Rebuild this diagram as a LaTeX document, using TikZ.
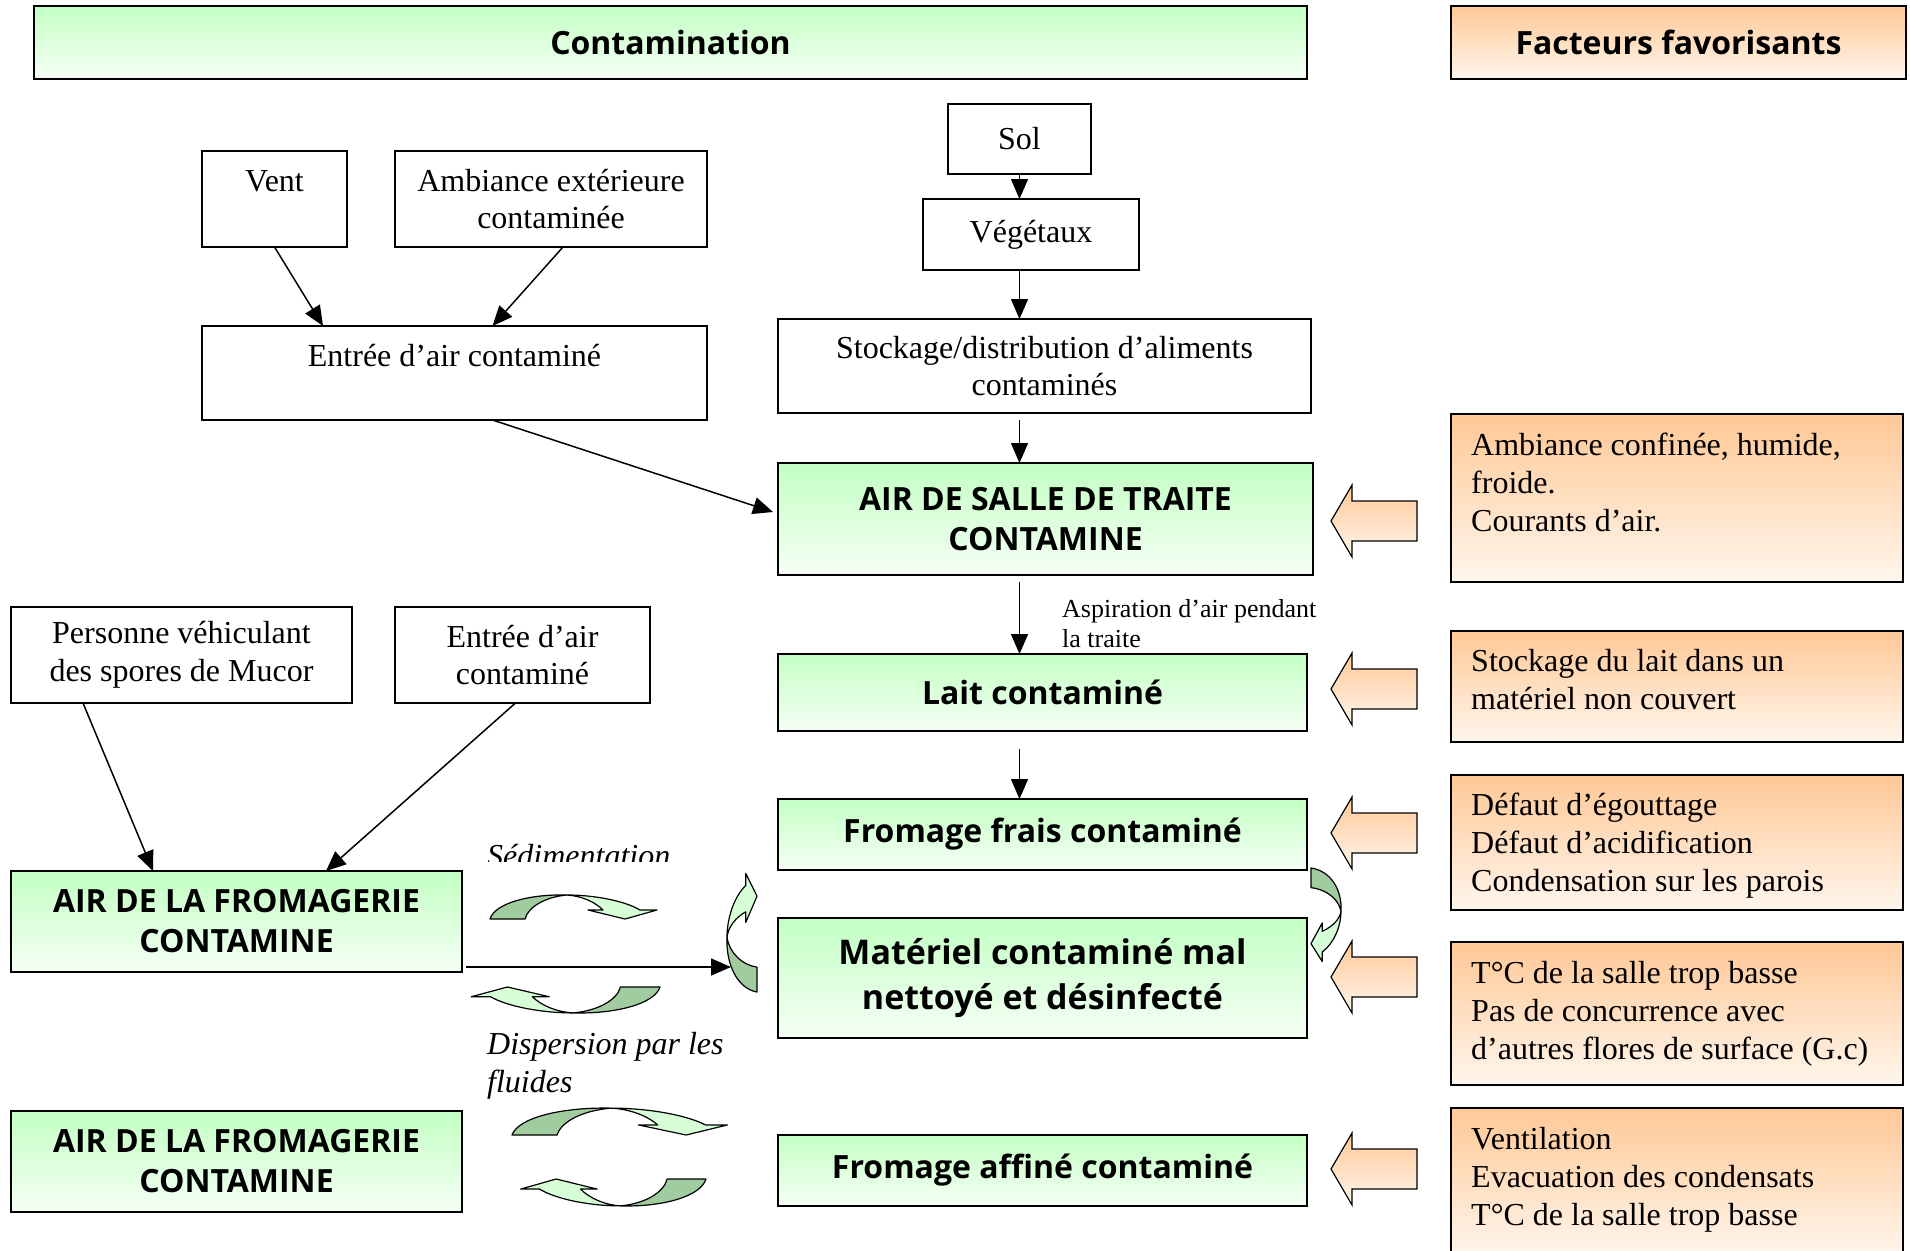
\documentclass[tikz,border=0pt]{standalone}
\usepackage{fontspec}
\setmainfont{Liberation Serif}
\newfontfamily\comicfont{Open Sans}
\usetikzlibrary{arrows.meta,calc}
\definecolor{vertclair}{RGB}{195,255,195}
\definecolor{vertpale}{RGB}{246,255,246}
\definecolor{orangeclair}{RGB}{255,200,150}
\definecolor{orangepale}{RGB}{255,246,237}
\definecolor{vertfonce}{RGB}{160,204,160}
\definecolor{vertfleche}{RGB}{215,255,215}

\newcommand{\courbe}{%
  \filldraw[fill=vertfonce,line width=1.2pt,line join=round] (0,0) .. controls (5,16) and (40,25) .. (77,24) .. controls (55,22) and (38,12) .. (35,0) -- cycle;
  \filldraw[fill=vertfleche,line width=1.2pt,line join=round] (77,24) .. controls (105,24) and (135,18) .. (150,9) -- (167,9) -- (135,0) -- (98,9) -- (113,9) .. controls (105,17) and (92,23) .. (77,24) -- cycle;}

\begin{document}
\begin{tikzpicture}[x=1pt,y=-1pt,
  boite/.style={draw,line width=1.4pt,inner sep=0pt,outer sep=0pt,align=center,font=\fontsize{32}{37.8}\selectfont},
  verte/.style={boite,top color=vertclair,bottom color=vertpale,font=\comicfont\bfseries\fontsize{32}{40}\selectfont},
  facteur/.style={draw,line width=1.4pt,top color=orangeclair,bottom color=orangepale,minimum width=452pt,inner sep=0pt,outer sep=0pt},
  factxt/.style={anchor=north west,inner sep=0pt,align=left,font=\fontsize{32}{37.8}\selectfont},
  fl/.style={-{Triangle[length=20pt,width=17pt]},line width=1.5pt}]
  \useasboundingbox (0,0) rectangle (1910,1250);

  \node[verte,line width=2.2pt,minimum width=1273pt,minimum height=73pt] (contam) at (670.5,42.5) {Contamination};
  \node[verte,line width=2.2pt,top color=orangeclair,bottom color=orangepale,minimum width=455pt,minimum height=73pt] (factfav) at (1678.5,42.5) {Facteurs favorisants};

  \node[boite,minimum width=143pt,minimum height=70pt] (sol) at (1019.5,139) {Sol};
  \node[boite,minimum width=216pt,minimum height=71pt] (veg) at (1031,234.5) {Végétaux};
  \node[boite,minimum width=145pt,minimum height=96pt] (vent) at (274.5,199) {Vent\\[-14pt]\strut};
  \node[boite,minimum width=312pt,minimum height=96pt] (ambiance) at (551,199) {Ambiance extérieure\\contaminée};
  \node[boite,minimum width=505pt,minimum height=94pt] (entree) at (454.5,373) {Entrée d’air contaminé\\[-14pt]\strut};
  \node[boite,minimum width=533pt,minimum height=94pt] (stock) at (1044.5,366) {Stockage/distribution d’aliments\\contaminés};
  \node[boite,minimum width=341pt,minimum height=96pt] (personne) at (181.5,655) {Personne véhiculant\\des spores de Mucor};
  \node[boite,minimum width=255pt,minimum height=96pt] (entree2) at (522.5,655) {Entrée d’air\\contaminé};

  \node[verte,minimum width=535pt,minimum height=112pt] (airsalle) at (1045.5,519) {AIR DE SALLE DE TRAITE\\CONTAMINE};
  \node[verte,minimum width=529pt,minimum height=77pt] (lait) at (1042.5,692.5) {Lait contaminé};
  \node[verte,minimum width=529pt,minimum height=71pt] (frais) at (1042.5,834.5) {Fromage frais contaminé};
  \node[verte,minimum width=529pt,minimum height=120pt,font=\comicfont\bfseries\fontsize{34}{45}\selectfont] (materiel) at (1042.5,978) {Matériel contaminé mal\\nettoyé et désinfecté};
  \node[verte,minimum width=529pt,minimum height=71pt] (affine) at (1042.5,1170.5) {Fromage affiné contaminé};
  \node[verte,minimum width=451pt,minimum height=101pt] (airfrom) at (236.5,921.5) {AIR DE LA FROMAGERIE\\CONTAMINE};
  \node[verte,minimum width=451pt,minimum height=101pt] (airfrom2) at (236.5,1161.5) {AIR DE LA FROMAGERIE\\CONTAMINE};

  \node[facteur,minimum height=168pt] (f1) at (1677,498) {};
  \node[facteur,minimum height=111pt] (f2) at (1677,686.5) {};
  \node[facteur,minimum height=135pt] (f3) at (1677,842.5) {};
  \node[facteur,minimum height=143pt] (f4) at (1677,1013.5) {};
  \node[facteur,minimum height=148pt] (f5) at (1677,1182) {};
  \node[factxt] (f1t) at ($(f1.north west)+(20,19)$) {Ambiance confinée, humide,\\froide.\\Courants d’air.};
  \node[factxt] (f2t) at ($(f2.north west)+(20,18)$) {Stockage du lait dans un\\matériel non couvert};
  \node[factxt] (f3t) at ($(f3.north west)+(20,18)$) {Défaut d’égouttage\\Défaut d’acidification\\Condensation sur les parois};
  \node[factxt] (f4t) at ($(f4.north west)+(20,19)$) {T°C de la salle trop basse\\Pas de concurrence avec\\d’autres flores de surface (G.c)};
  \node[factxt] (f5t) at ($(f5.north west)+(20,19)$) {Ventilation\\Evacuation des condensats\\T°C de la salle trop basse};

  \foreach \c in {521,689,833,977,1169}
    \draw[line width=1.2pt,top color=orangeclair,bottom color=orangepale] (1331,\c) -- (1352,\c-36) -- (1352,\c-20) -- (1417,\c-20) -- (1417,\c+20) -- (1352,\c+20) -- (1352,\c+36) -- cycle;

  \draw[fl] (vent.south) -- ($(entree.north west)+(121,0)$);
  \draw[fl] ($(ambiance.south)+(12,0)$) -- ($(entree.north)+(38,0)$);
  \draw[fl] (sol.south) -- (sol.south |- veg.north);
  \draw[fl] (sol.south |- veg.south) -- (sol.south |- stock.north);
  \draw[fl,shorten <=7pt] (sol.south |- stock.south) -- (sol.south |- airsalle.north);
  \draw[fl] ($(entree.south)+(38,0)$) -- ($(airsalle.west)+(-5,-7)$);
  \draw[fl,shorten <=7pt] (sol.south |- airsalle.south) -- (sol.south |- lait.north);
  \node[anchor=west,inner sep=0pt,align=left,font=\fontsize{26}{30}\selectfont] (aspi) at (1062,624) {Aspiration d’air pendant\\la traite};
  \draw[fl,shorten <=18pt] (sol.south |- lait.south) -- (sol.south |- frais.north);
  \draw[fl] ($(personne.south west)+(72,0)$) -- ($(airfrom.north west)+(142,0)$);
  \draw[fl] ($(entree2.south)+(-7,0)$) -- ($(airfrom.north west)+(315,0)$);
  \coordinate (sedi) at (731,967);
  \draw[fl,shorten <=4pt] (airfrom.east |- sedi) -- (sedi);

  \begin{scope}
    \clip (480,830) rectangle (700,861);
    \node[anchor=base west,inner sep=0pt,font=\itshape\fontsize{32}{37.8}\selectfont] (sedim) at (487,866) {Sédimentation};
  \end{scope}
  \node[anchor=north west,inner sep=0pt,align=left,font=\itshape\fontsize{32}{37.8}\selectfont] (disp) at (487,1032) {Dispersion par les\\fluides};

  \begin{scope}[shift={(490,919)},yscale=-1] \courbe \end{scope}
  \begin{scope}[shift={(660,987)},xscale=-1.13,yscale=1.08] \courbe \end{scope}
  \begin{scope}[shift={(512,1135)},xscale=1.29,yscale=-1.12] \courbe \end{scope}
  \begin{scope}[shift={(706,1179)},xscale=-1.11,yscale=1.12] \courbe \end{scope}
  \begin{scope}[shift={(757,992)},rotate=90,xscale=0.71,yscale=-1.25] \courbe \end{scope}
  \begin{scope}[shift={(1311,868)},rotate=-90,xscale=0.56,yscale=-1.25] \courbe \end{scope}
\end{tikzpicture}
\end{document}
